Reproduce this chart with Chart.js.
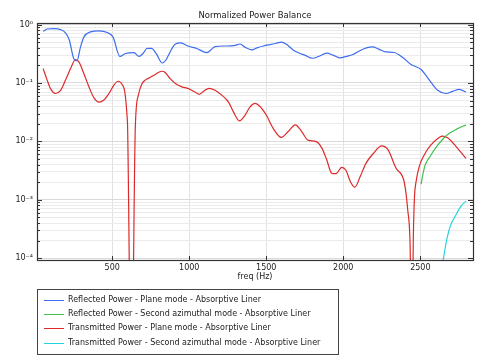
<!DOCTYPE html>
<html>
<head>
<meta charset="utf-8">
<script src="https://cdn.jsdelivr.net/npm/chart.js@4.4.1/dist/chart.umd.min.js"></script>
<style>
  html, body { margin: 0; padding: 0; background: #fff; }
  #wrap { position: relative; width: 486px; height: 363px; }
  #legend {
    position: absolute; left: 37px; top: 289px; width: 300px; height: 61px;
    border: 1px solid #444; box-sizing: content-box;
    font-family: "DejaVu Sans", sans-serif; font-size: 8px; color: #222;
    padding-top: 3px;
  }
  .row { height: 14.2px; line-height: 14.2px; position: relative; white-space: nowrap; }
  .swatch { position: absolute; left: 6px; top: 7px; width: 20px; height: 1px; }
  .txt { position: absolute; left: 30px; top: 0; }
</style>
</head>
<body>
<div id="wrap">
  <canvas id="powerChart" width="486" height="363"></canvas>
  <div id="legend"></div>
</div>
<script>
// Series (freq in Hz, normalized power)
var reflPlaneFreq = [52, 78, 121, 165, 197, 222, 251, 272, 294, 316, 359, 414, 468, 506, 550, 586, 641, 675, 700, 727, 755, 785, 826, 848, 876, 908, 945, 995, 1049, 1114, 1168, 1233, 1290, 1330, 1362, 1406, 1440, 1481, 1525, 1560, 1600, 1641, 1676, 1720, 1750, 1799, 1847, 1890, 1934, 1977, 2020, 2063, 2110, 2150, 2191, 2230, 2277, 2331, 2386, 2440, 2505, 2559, 2613, 2667, 2710, 2753, 2797];
var reflPlaneVal = [0.77, 0.84, 0.855, 0.82, 0.72, 0.54, 0.26, 0.24, 0.41, 0.61, 0.75, 0.78, 0.73, 0.61, 0.285, 0.32, 0.33, 0.285, 0.32, 0.39, 0.39, 0.32, 0.22, 0.245, 0.34, 0.46, 0.485, 0.425, 0.39, 0.33, 0.42, 0.43, 0.435, 0.465, 0.41, 0.37, 0.40, 0.43, 0.455, 0.475, 0.50, 0.44, 0.364, 0.32, 0.30, 0.265, 0.29, 0.325, 0.30, 0.27, 0.285, 0.307, 0.36, 0.40, 0.414, 0.38, 0.34, 0.333, 0.273, 0.207, 0.17, 0.112, 0.075, 0.066, 0.072, 0.078, 0.070];

var reflAzFreq = [2505, 2520, 2531, 2563, 2606, 2650, 2693, 2736, 2780, 2797];
var reflAzVal = [0.00186, 0.0030, 0.0039, 0.0055, 0.0081, 0.0112, 0.014, 0.0162, 0.0183, 0.019];

var transPlaneFreq = [52, 78, 100, 132, 165, 197, 230, 262, 284, 316, 349, 381, 414, 446, 479, 511, 539, 565, 582, 597, 600, 625, 650, 670, 692, 714, 746, 779, 822, 844, 876, 920, 952, 995, 1038, 1066, 1096, 1129, 1168, 1211, 1254, 1287, 1326, 1362, 1395, 1428, 1458, 1501, 1545, 1598, 1641, 1689, 1728, 1771, 1825, 1862, 1893, 1925, 1953, 1990, 2017, 2048, 2075, 2110, 2147, 2195, 2249, 2290, 2342, 2392, 2407, 2418, 2433, 2446, 2455, 2462, 2472, 2493, 2526, 2569, 2623, 2645, 2677, 2742, 2797];
var transPlaneVal = [0.177, 0.112, 0.080, 0.066, 0.075, 0.112, 0.177, 0.252, 0.23, 0.145, 0.086, 0.056, 0.047, 0.051, 0.066, 0.092, 0.107, 0.094, 0.070, 0.026, 0.018, 3e-7, 0.017, 0.062, 0.095, 0.112, 0.124, 0.14, 0.159, 0.151, 0.119, 0.094, 0.086, 0.080, 0.070, 0.064, 0.073, 0.081, 0.075, 0.062, 0.0475, 0.032, 0.0225, 0.028, 0.039, 0.0446, 0.040, 0.028, 0.0167, 0.0117, 0.0146, 0.0192, 0.015, 0.0105, 0.0099, 0.0076, 0.0048, 0.00284, 0.0028, 0.0036, 0.0032, 0.0020, 0.00164, 0.0025, 0.0042, 0.0062, 0.0084, 0.0072, 0.0035, 0.0022, 0.0013, 0.00068, 0.0002, 3e-6, 0.00025, 0.0011, 0.002, 0.0037, 0.0059, 0.0087, 0.0117, 0.0123, 0.0115, 0.0076, 0.0051];

var transAzFreq = [2620, 2667, 2694, 2731, 2764, 2797];
var transAzVal = [0.00003, 0.00018, 0.00035, 0.00055, 0.00078, 0.00095];

var seriesLabels = [
  'Reflected Power - Plane mode - Absorptive Liner',
  'Reflected Power - Second azimuthal mode - Absorptive Liner',
  'Transmitted Power - Plane mode - Absorptive Liner',
  'Transmitted Power - Second azimuthal mode - Absorptive Liner'
];
var seriesColors = ['#3c6cf0', '#44c050', '#dd2a2a', '#22d4dc'];

var xTickValues = [500, 1000, 1500, 2000, 2500];
var yDecades = [-4, -3, -2, -1, 0];

var sup = {'-': '\u207B', '0': '\u2070', '1': '\u00B9', '2': '\u00B2', '3': '\u00B3', '4': '\u2074'};
function supText(n) {
  return String(n).split('').map(c => sup[c]).join('');
}

function toPoints(xs, ys) {
  return xs.map((x, i) => ({x: x, y: ys[i]}));
}

// frame and inward tick marks like the original plot
var framePlugin = {
  id: 'frame',
  afterDraw(chart) {
    var ctx = chart.ctx, a = chart.chartArea;
    var xs = chart.scales.x, ys = chart.scales.y;
    ctx.save();
    ctx.strokeStyle = '#333';
    ctx.lineWidth = 1;
    ctx.beginPath();
    xs.ticks.forEach(t => {
      var px = Math.round(xs.getPixelForValue(t.value)) + 0.5;
      ctx.moveTo(px, a.bottom); ctx.lineTo(px, a.bottom - 4);
      ctx.moveTo(px, a.top); ctx.lineTo(px, a.top + 4);
    });
    ys.ticks.forEach(t => {
      var py = Math.round(ys.getPixelForValue(t.value)) + 0.5;
      var len = t.major ? 5 : 3;
      ctx.moveTo(a.left, py); ctx.lineTo(a.left + len, py);
      ctx.moveTo(a.right, py); ctx.lineTo(a.right - len, py);
    });
    ctx.stroke();
    ctx.lineWidth = 1.2;
    ctx.strokeRect(Math.round(a.left) + 0.5, Math.round(a.top) + 0.5,
      Math.round(a.right - a.left), Math.round(a.bottom - a.top));
    ctx.restore();
  }
};

var datasets = [
  {data: toPoints(reflPlaneFreq, reflPlaneVal)},
  {data: toPoints(reflAzFreq, reflAzVal)},
  {data: toPoints(transPlaneFreq, transPlaneVal)},
  {data: toPoints(transAzFreq, transAzVal)}
].map((d, i) => Object.assign(d, {
  label: seriesLabels[i],
  borderColor: seriesColors[i],
  borderWidth: 1.2,
  pointRadius: 0,
  fill: false,
  cubicInterpolationMode: 'monotone'
}));

Chart.defaults.font.family = '"DejaVu Sans", sans-serif';
Chart.defaults.color = '#222';

new Chart(document.getElementById('powerChart'), {
  type: 'line',
  data: {datasets: datasets},
  options: {
    responsive: false,
    animation: false,
    layout: {padding: {left: 0, right: 13, top: 0, bottom: 79}},
    plugins: {
      legend: {display: false},
      tooltip: {enabled: false},
      title: {
        display: true,
        text: 'Normalized Power Balance',
        fullSize: false,
        font: {size: 8.5, weight: 'normal'},
        padding: {top: 11, bottom: 1.8}
      }
    },
    scales: {
      x: {
        type: 'linear',
        min: 12,
        max: 2842,
        afterBuildTicks: s => { s.ticks = xTickValues.map(v => ({value: v})); },
        afterFit: s => { s.height = 24; },
        ticks: {
          font: {size: 8}, padding: 3, maxRotation: 0, autoSkip: false,
          callback: value => String(value)
        },
        grid: {color: '#e2e2e2', drawTicks: false},
        border: {display: false},
        title: {display: true, text: 'freq (Hz)', font: {size: 8}, padding: {top: 0, bottom: 2}}
      },
      y: {
        type: 'logarithmic',
        min: 9.3e-5,
        max: 1.065,
        afterBuildTicks: s => {
          var t = [];
          yDecades.forEach(e => {
            for (var m = 1; m <= 9; m++) {
              var v = m * Math.pow(10, e);
              if (v >= s.min && v <= s.max) t.push({value: v, major: m === 1});
            }
          });
          s.ticks = t;
        },
        afterFit: s => { s.width = 37; },
        ticks: {
          font: {size: 8},
          padding: 4,
          autoSkip: false,
          callback: function(value) {
            var e = Math.log10(value);
            if (Math.abs(e - Math.round(e)) < 1e-9) return '10' + supText(Math.round(e));
            return '';
          }
        },
        grid: {
          color: c => (c.tick && c.tick.major) ? '#dadada' : '#ebebeb',
          drawTicks: false
        },
        border: {display: false}
      }
    }
  },
  plugins: [framePlugin]
});

// legend box under the plot
var legend = document.getElementById('legend');
seriesLabels.forEach((label, i) => {
  var row = document.createElement('div');
  row.className = 'row';
  row.innerHTML = '<span class="swatch" style="background:' + seriesColors[i] + '"></span><span class="txt"></span>';
  row.querySelector('.txt').textContent = label;
  legend.appendChild(row);
});
</script>
</body>
</html>
